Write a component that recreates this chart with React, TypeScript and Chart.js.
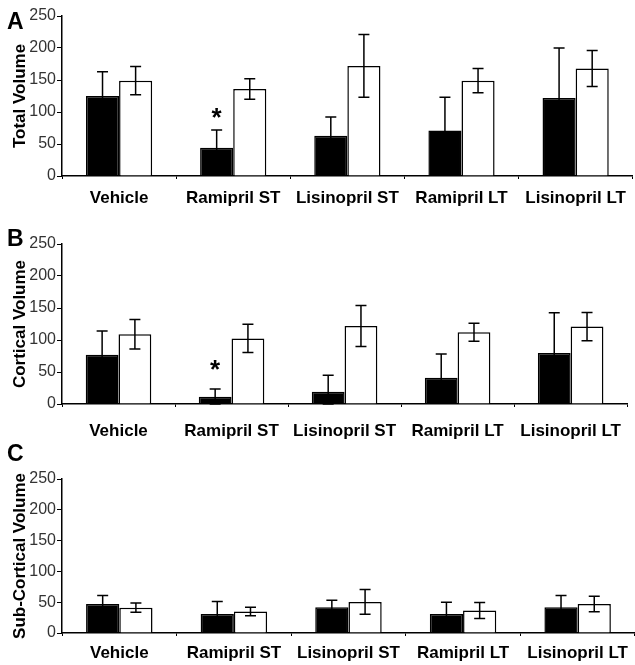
import React, { useEffect, useRef } from 'react';
import { Chart, registerables } from 'chart.js';
Chart.register(...registerables);

const FONT = '"Liberation Sans", Arial, Helvetica, sans-serif';

const categories = ['Vehicle', 'Ramipril ST', 'Lisinopril ST', 'Ramipril LT', 'Lisinopril LT'];
const yTicks = [0, 50, 100, 150, 200, 250];

const totalBlack = [125, 44, 63, 71, 122];
const totalBlackErr = [38, 28, 29, 52, 78];
const totalWhite = [149, 136, 172, 149, 168];
const totalWhiteErr = [22, 16, 49, 19, 28];
const totalStar = [null, 98, null, null, null];

const corticalBlack = [77, 11.5, 19, 41, 79.5];
const corticalBlackErr = [37, 12, 26, 37, 63];
const corticalWhite = [109, 102.5, 122, 112, 121];
const corticalWhiteErr = [23, 22, 32, 14, 22];
const corticalStar = [null, 61, null, null, null];

const subBlack = [47, 31, 42, 31, 42];
const subBlackErr = [14, 20, 11, 19, 19];
const subWhite = [41, 35, 50.5, 36.4, 47];
const subWhiteErr = [7.5, 7, 20, 13, 12.5];
const subStar = [null, null, null, null, null];

type PanelProps = {
  letter: string;
  title: string;
  black: number[];
  blackErr: number[];
  white: number[];
  whiteErr: number[];
  star: (number | null)[];
  height: number;
  top: number;
  bottom: number;
  labelPad: number;
  letterY: number;
};

function Panel(p: PanelProps) {
  const ref = useRef<HTMLCanvasElement | null>(null);
  useEffect(() => {
    if (!ref.current) return;
    const errs = [p.blackErr, p.whiteErr];
    const overlay = {
      id: 'overlay',
      afterDatasetsDraw(chart: any) {
        const ctx = chart.ctx;
        const ys = chart.scales.y;
        ctx.save();
        ctx.strokeStyle = '#000';
        ctx.lineWidth = 1.5;
        chart.data.datasets.forEach((ds: any, di: number) => {
          const meta = chart.getDatasetMeta(di);
          ds.data.forEach((v: number, i: number) => {
            const e = errs[di][i];
            const x = meta.data[i].x;
            const yt = ys.getPixelForValue(v + e);
            const yb = ys.getPixelForValue(Math.max(0, v - e));
            const cw = 5.5;
            ctx.beginPath();
            ctx.moveTo(x, yt);
            ctx.lineTo(x, yb);
            ctx.moveTo(x - cw, yt);
            ctx.lineTo(x + cw, yt);
            ctx.moveTo(x - cw, yb);
            ctx.lineTo(x + cw, yb);
            ctx.stroke();
          });
        });
        // significance stars
        const meta0 = chart.getDatasetMeta(0);
        ctx.fillStyle = '#000';
        ctx.font = 'bold 26px ' + FONT;
        ctx.textAlign = 'center';
        ctx.textBaseline = 'alphabetic';
        p.star.forEach((s, i) => {
          if (s === null || s === undefined) return;
          const m = ctx.measureText('*');
          const asc = m.actualBoundingBoxAscent;
          const desc = m.actualBoundingBoxDescent;
          const cy = ys.getPixelForValue(s);
          ctx.fillText('*', meta0.data[i].x, cy + (asc - desc) / 2);
        });
        // panel letter
        ctx.font = 'bold 23px ' + FONT;
        ctx.textAlign = 'left';
        ctx.fillText(p.letter, 7, p.letterY);
        ctx.restore();
      },
    };
    const chart = new Chart(ref.current, {
      type: 'bar',
      data: {
        labels: categories,
        datasets: [
          {
            data: p.black,
            backgroundColor: '#000',
            borderColor: '#000',
            borderWidth: 1.5,
            borderSkipped: 'bottom',
          },
          {
            data: p.white,
            backgroundColor: '#fff',
            borderColor: '#000',
            borderWidth: 1.5,
            borderSkipped: 'bottom',
          },
        ],
      },
      options: {
        responsive: false,
        animation: false,
        devicePixelRatio: 1,
        layout: { padding: { top: p.top, left: 0, right: 0, bottom: 0 } },
        plugins: { legend: { display: false }, tooltip: { enabled: false } },
        datasets: { bar: { categoryPercentage: 0.58, barPercentage: 1.0 } },
        scales: {
          x: {
            offset: true,
            grid: {
              offset: true,
              drawOnChartArea: false,
              drawTicks: true,
              tickLength: 3,
              color: '#000',
              lineWidth: 1,
            },
            border: { color: '#000', width: 1.5 },
            ticks: {
              color: '#000',
              font: { family: FONT, size: 17, weight: 'bold' },
              padding: p.labelPad,
              maxRotation: 0,
              autoSkip: false,
            },
            afterFit: (s: any) => {
              s.height = p.height - p.bottom;
            },
          },
          y: {
            min: yTicks[0],
            max: yTicks[yTicks.length - 1],
            grid: {
              drawOnChartArea: false,
              drawTicks: true,
              tickLength: 5,
              color: '#000',
              lineWidth: 1,
            },
            border: { color: '#000', width: 1.5 },
            ticks: {
              stepSize: 50,
              color: '#333',
              font: { family: FONT, size: 16 },
              padding: 1,
            },
            title: {
              display: true,
              text: p.title,
              color: '#000',
              font: { family: FONT, size: 17, weight: 'bold' },
              padding: { top: 10, bottom: 0 },
            },
            afterFit: (s: any) => {
              s.width = 62;
            },
          },
        },
      },
      plugins: [overlay],
    } as any);
    return () => chart.destroy();
  }, []);
  return <canvas ref={ref} width={635} height={p.height} style={{ display: 'block' }} />;
}

export default function App() {
  return (
    <div style={{ position: 'absolute', left: 0, top: 0, width: 635, height: 665, background: '#fff' }}>
      <Panel letter="A" title="Total Volume" black={totalBlack} blackErr={totalBlackErr} white={totalWhite}
        whiteErr={totalWhiteErr} star={totalStar} height={220} top={16} bottom={176} labelPad={9} letterY={29} />
      <Panel letter="B" title="Cortical Volume" black={corticalBlack} blackErr={corticalBlackErr} white={corticalWhite}
        whiteErr={corticalWhiteErr} star={corticalStar} height={220} top={24} bottom={184} labelPad={14} letterY={26} />
      <Panel letter="C" title="Sub-Cortical Volume" black={subBlack} blackErr={subBlackErr} white={subWhite}
        whiteErr={subWhiteErr} star={subStar} height={225} top={39} bottom={193} labelPad={7} letterY={21} />
    </div>
  );
}
